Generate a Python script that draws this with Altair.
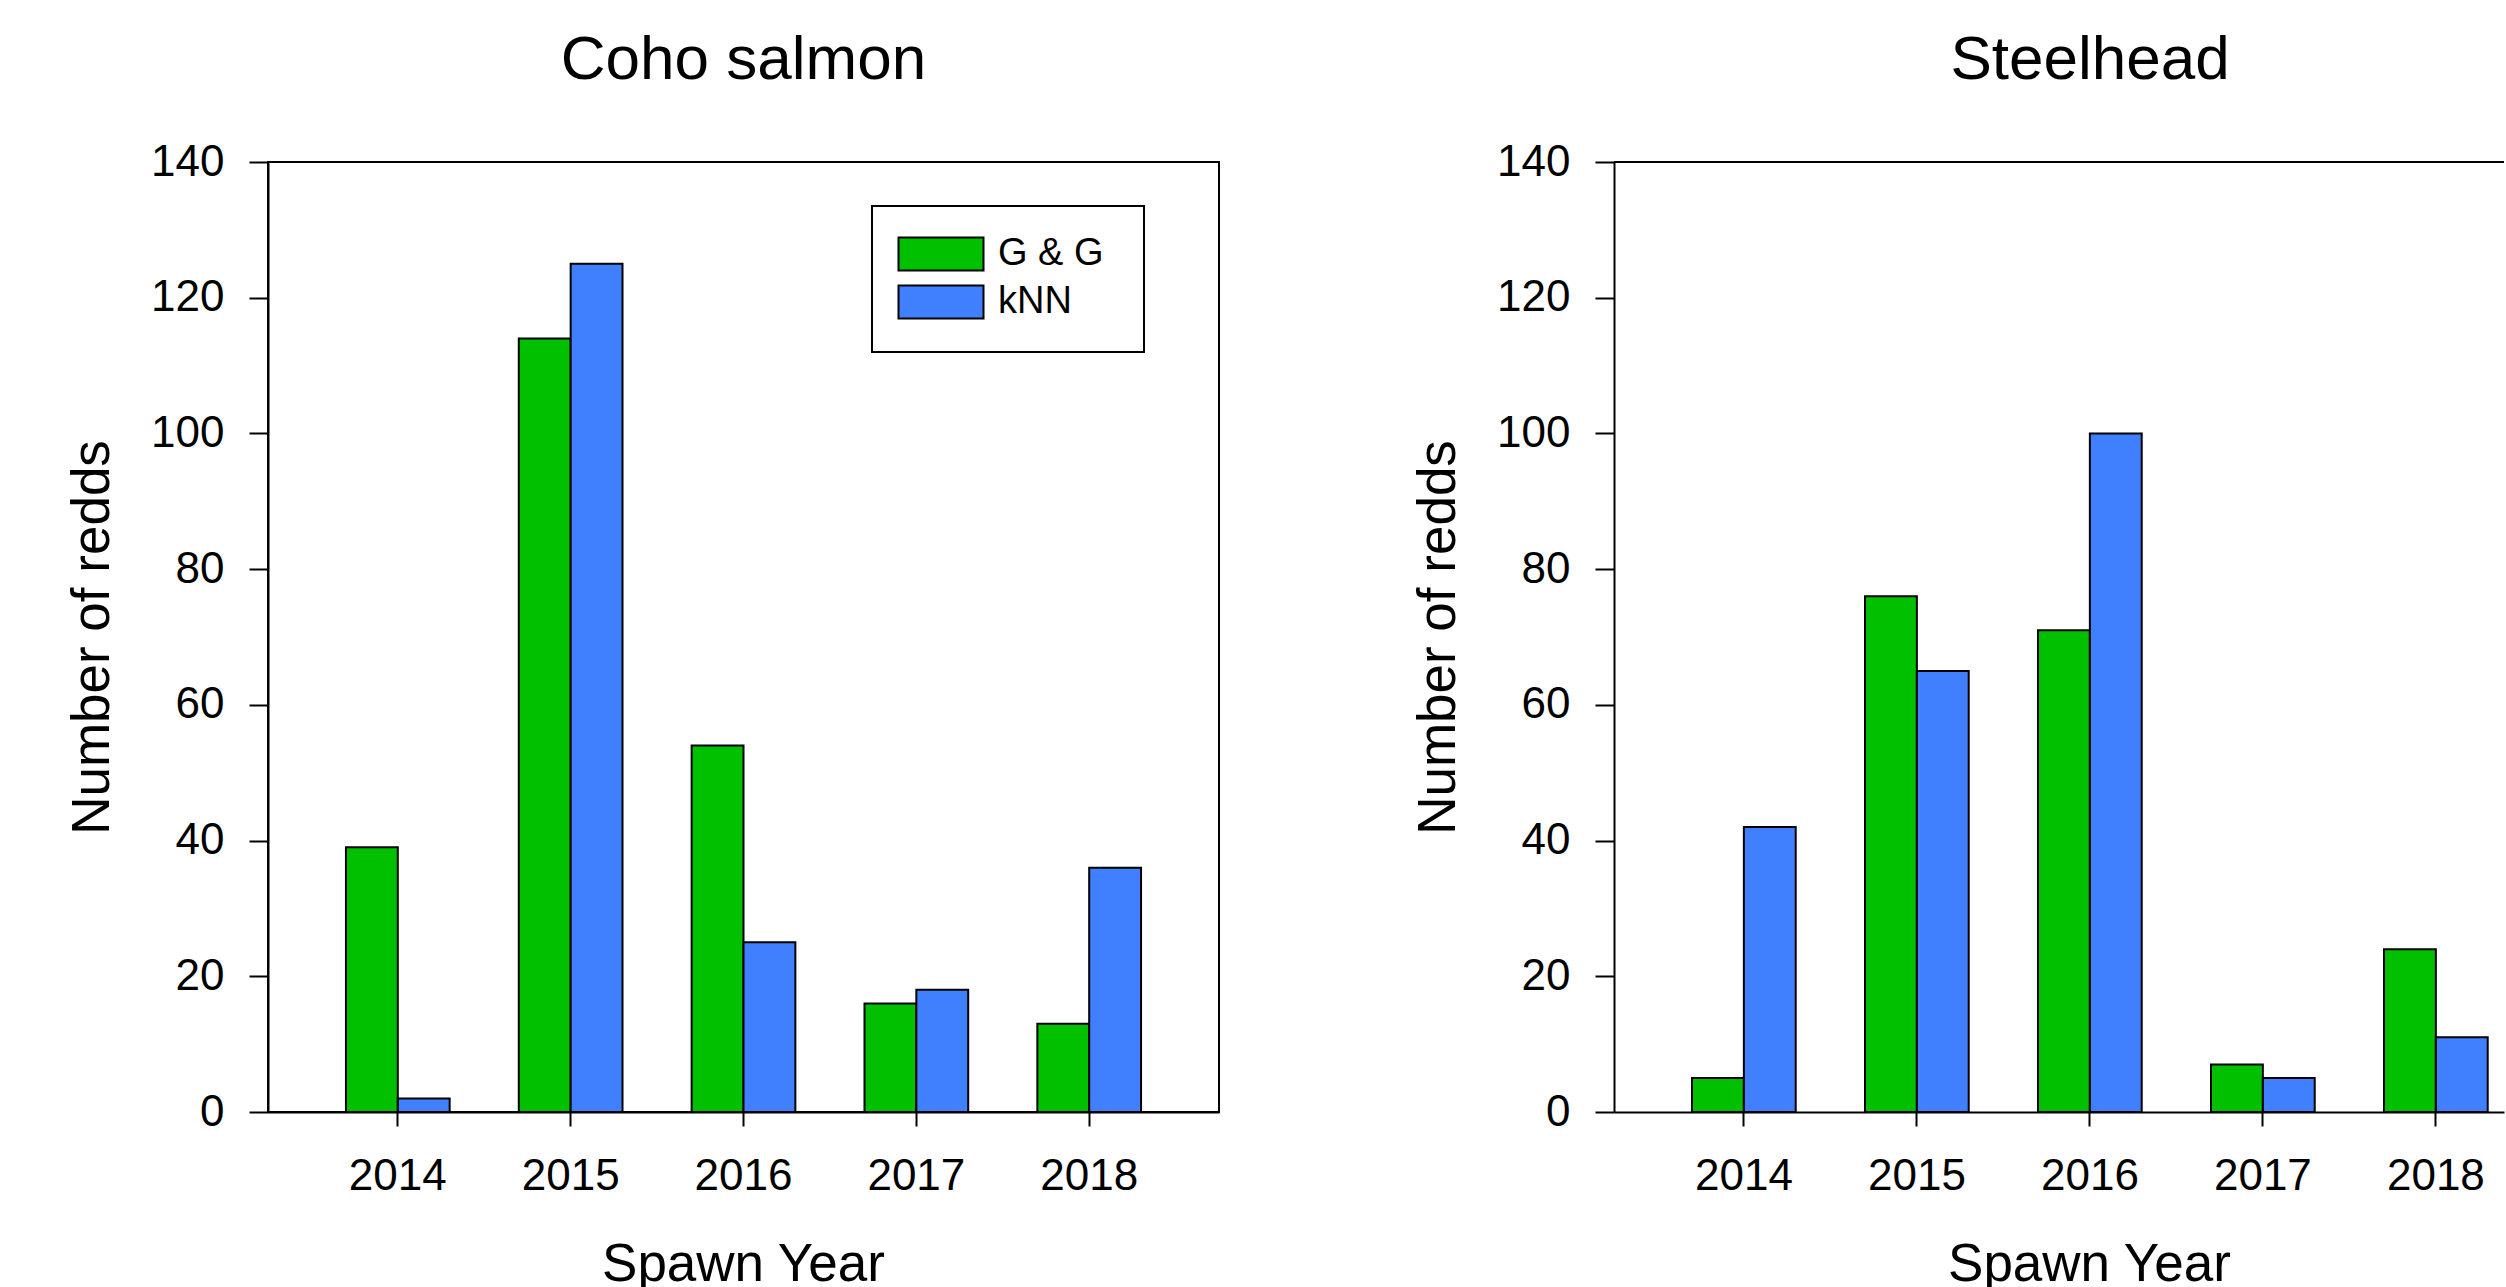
import altair as alt
import pandas as pd

# ---- data ----
years = ["2014", "2015", "2016", "2017", "2018"]
methods = ["G & G", "kNN"]
coho_gg = [39, 114, 54, 16, 13]
coho_knn = [2, 125, 25, 18, 36]
steel_gg = [5, 76, 71, 7, 24]
steel_knn = [42, 65, 100, 5, 11]
y_ticks = [0, 20, 40, 60, 80, 100, 120, 140]
y_max = [140]
colors = ["#00C000", "#4080FF"]

FONT = "Liberation Sans"
PAD = "\u00a0\u200b"  # widens the legend box a little on the right


def frame(gg, knn):
    rows = []
    for y, a, b in zip(years, gg, knn):
        rows.append({"year": y, "method": methods[0], "count": a})
        rows.append({"year": y, "method": methods[1], "count": b})
    return pd.DataFrame(rows)


def bars(df, x_scale, legend):
    color_kw = {"scale": alt.Scale(domain=methods, range=colors)}
    if legend is None:
        color = alt.Color("method:N", legend=None, **color_kw)
    else:
        color = alt.Color("method:N", legend=legend, **color_kw)
    return alt.Chart(df).mark_bar(stroke="black", strokeWidth=2, opacity=1).encode(
        x=alt.X(
            "year:N",
            sort=years,
            scale=x_scale,
            axis=alt.Axis(
                labelAngle=0, tickSize=14, tickWidth=2, tickColor="black",
                domainColor="black", domainWidth=2,
                labelFont=FONT, labelFontSize=44, labelColor="black", labelPadding=28,
                title="Spawn Year", titleFont=FONT, titleFontSize=53,
                titleFontWeight="normal", titleColor="black",
                titleX=475, titleY=168, titleBaseline="alphabetic", titleAlign="center",
            ),
        ),
        xOffset=alt.XOffset(
            "method:N", sort=methods,
            scale=alt.Scale(domain=methods, paddingInner=0, paddingOuter=0),
        ),
        y=alt.Y(
            "count:Q",
            scale=alt.Scale(domain=[0, y_max[0]], nice=False),
            axis=alt.Axis(
                values=y_ticks, grid=False, tickSize=19, tickWidth=2, tickColor="black",
                domainColor="black", domainWidth=2,
                labelFont=FONT, labelFontSize=44, labelColor="black", labelPadding=25,
                title="Number of redds", titleFont=FONT, titleFontSize=53,
                titleFontWeight="normal", titleColor="black",
                titleX=-160, titleY=475, titleBaseline="alphabetic", titleAlign="center",
                titleAngle=270,
            ),
        ),
        color=color,
    )


legend = alt.Legend(
    title=None, orient="none", legendX=604, legendY=44, direction="vertical",
    symbolType="M-2.576,-1H2.576V1H-2.576Z", symbolSize=1089, symbolOffset=21,
    symbolStrokeColor="black", symbolStrokeWidth=2, symbolOpacity=1,
    labelFont=FONT, labelFontSize=38, labelColor="black", labelOffset=38,
    labelExpr="datum.label + '" + PAD + "'",
    strokeColor="black", fillColor="white", padding=29, rowPadding=6,
)

left_scale = alt.Scale(paddingInner=0.4, paddingOuter=0.451)
right_scale = alt.Scale(paddingInner=0.4, paddingOuter=0.2723, align=0.828)

left = bars(frame(coho_gg, coho_knn), left_scale, legend).properties(
    width=951, height=950,
    title=alt.TitleParams("Coho salmon", font=FONT, fontSize=62, fontWeight="normal",
                          color="black", anchor="middle", frame="group",
                          baseline="alphabetic", offset=-1),
    view=alt.ViewBackground(stroke="black", strokeWidth=2),
)

top_rule = alt.Chart(pd.DataFrame({"v": y_max})).mark_rule(
    color="black", strokeWidth=2
).encode(y=alt.Y("v:Q"))

right = alt.layer(
    bars(frame(steel_gg, steel_knn), right_scale, None),
    top_rule,
).properties(
    width=890, height=950,
    title=alt.TitleParams("Steelhead", font=FONT, fontSize=62, fontWeight="normal",
                          color="black", anchor="middle", frame="group",
                          baseline="alphabetic", offset=-1, dx=31),
    view=alt.ViewBackground(stroke="transparent"),
)

chart = alt.hconcat(left, right, spacing=395, bounds="flush").resolve_scale(
    color="independent"
).properties(
    padding={"left": 65, "top": 28, "right": 0, "bottom": 0},
    background="white",
).configure_legend(strokeWidth=2)

chart.save("out.html", embed_options={"renderer": "svg", "actions": False})
